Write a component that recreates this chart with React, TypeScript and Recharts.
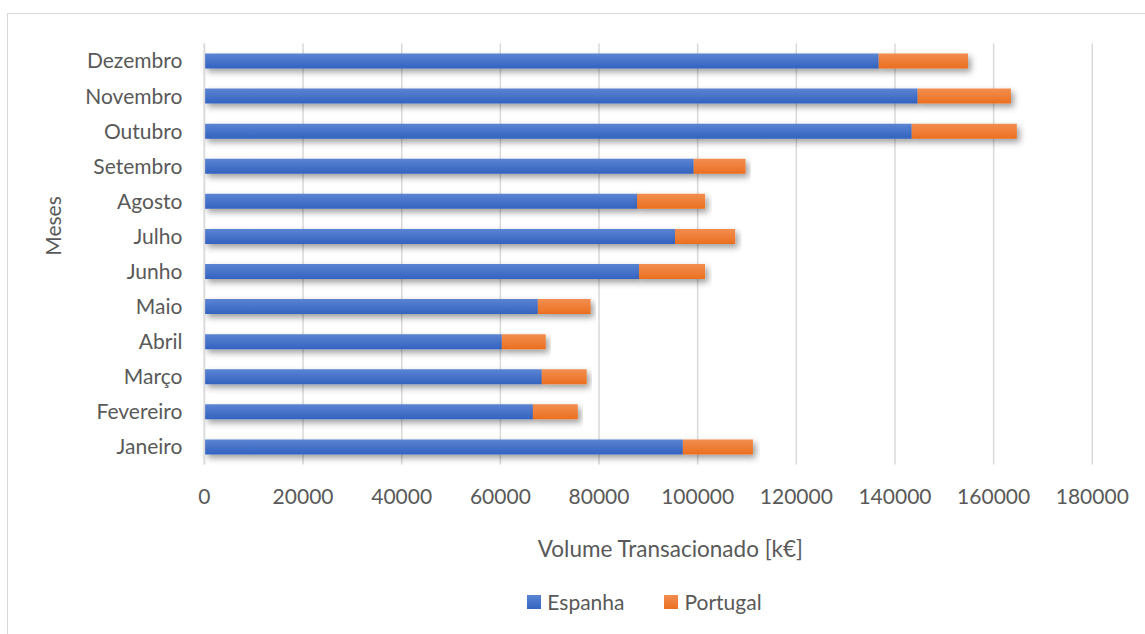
import { Bar, BarChart, CartesianGrid, Label, Legend, XAxis, YAxis } from "recharts";

const MONTHS = [
  "Janeiro",
  "Fevereiro",
  "Março",
  "Abril",
  "Maio",
  "Junho",
  "Julho",
  "Agosto",
  "Setembro",
  "Outubro",
  "Novembro",
  "Dezembro",
];
const ESPANHA = [97000, 66600, 68400, 60300, 67600, 88100, 95400, 87700, 99200, 143400, 144600, 136700];
const PORTUGAL = [14200, 9100, 9100, 8900, 10700, 13400, 12200, 13800, 10500, 21300, 18900, 18100];
const X_TICKS = [0, 20000, 40000, 60000, 80000, 100000, 120000, 140000, 160000, 180000];

const FONT = "Lato, 'Open Sans', sans-serif";
const TEXT = "#595959";
const GRID = "#d9d9d9";

const data = MONTHS.map((m, i) => ({ month: m, espanha: ESPANHA[i], portugal: PORTUGAL[i] }));

const SERIES = [
  { key: "espanha", name: "Espanha", fill: "url(#gEsp)", swatch: "linear-gradient(#5a84d2, #3565c0)" },
  { key: "portugal", name: "Portugal", fill: "url(#gPor)", swatch: "linear-gradient(#f28d4f, #eb7020)" },
];

function LegendBox() {
  return (
    <div style={{ display: "flex", justifyContent: "center", gap: 40, fontFamily: FONT, fontSize: 21, color: TEXT }}>
      {SERIES.map((s) => (
        <div key={s.key} style={{ display: "flex", alignItems: "center", gap: 6 }}>
          <span style={{ width: 14, height: 14, display: "inline-block", background: s.swatch }} />
          <span>{s.name}</span>
        </div>
      ))}
    </div>
  );
}

export default function App() {
  return (
    <div style={{ position: "absolute", left: 0, top: 0, width: 1145, height: 634, background: "#fff", overflow: "hidden" }}>
      <style>{"body{margin:0}"}</style>
      {/* chart area border, cut off at right and bottom like the reference */}
      <div
        style={{
          position: "absolute",
          left: 7,
          top: 13,
          width: 1300,
          height: 700,
          border: "1.5px solid #d9d9d9",
          boxSizing: "border-box",
        }}
      />
      <BarChart
        width={1145}
        height={634}
        data={data}
        layout="vertical"
        barSize={15}
        margin={{ top: 43.5, right: 52.7, bottom: 0, left: 0 }}
        style={{ position: "absolute", left: 0, top: 0, fontFamily: FONT }}
      >
        <defs>
          <linearGradient id="gEsp" x1="0" y1="0" x2="0" y2="1">
            <stop offset="0%" stopColor="#5b84d2" />
            <stop offset="100%" stopColor="#3363c0" />
          </linearGradient>
          <linearGradient id="gPor" x1="0" y1="0" x2="0" y2="1">
            <stop offset="0%" stopColor="#f28e50" />
            <stop offset="100%" stopColor="#eb6f1f" />
          </linearGradient>
          <filter id="shadow" x="-5%" y="-50%" width="115%" height="250%">
            <feDropShadow dx="3" dy="3.5" stdDeviation="3" floodColor="#000" floodOpacity="0.38" />
          </filter>
        </defs>
        <CartesianGrid horizontal={false} stroke={GRID} strokeWidth={1.5} />
        <XAxis
          type="number"
          domain={[0, 180000]}
          ticks={X_TICKS}
          interval={0}
          axisLine={false}
          tickLine={false}
          tickSize={0}
          tickMargin={24.5}
          height={169.5}
          tick={{ fill: TEXT, fontSize: 21, fontFamily: FONT }}
        >
          <Label
            value="Volume Transacionado [k€]"
            position="center"
            dx={22}
            style={{ fill: TEXT, fontSize: 22.5, fontFamily: FONT }}
          />
        </XAxis>
        <YAxis
          type="category"
          dataKey="month"
          reversed
          width={204.4}
          axisLine={{ stroke: GRID, strokeWidth: 1.5 }}
          tickLine={false}
          tickSize={0}
          tickMargin={22}
          interval={0}
          tick={{ fill: TEXT, fontSize: 21, fontFamily: FONT }}
        >
          <Label
            value="Meses"
            position="center"
            angle={-90}
            dx={-49}
            dy={-28}
            style={{ fill: TEXT, fontSize: 21, fontFamily: FONT }}
          />
        </YAxis>
        <Legend
          layout="horizontal"
          verticalAlign="middle"
          align="center"
          content={() => <LegendBox />}
          wrapperStyle={{ top: 589, left: 144, width: 1001 }}
        />
        {SERIES.map((s) => (
          <Bar
            key={s.key}
            dataKey={s.key}
            name={s.name}
            stackId="a"
            fill={s.fill}
            filter="url(#shadow)"
            isAnimationActive={false}
          />
        ))}
      </BarChart>
    </div>
  );
}
